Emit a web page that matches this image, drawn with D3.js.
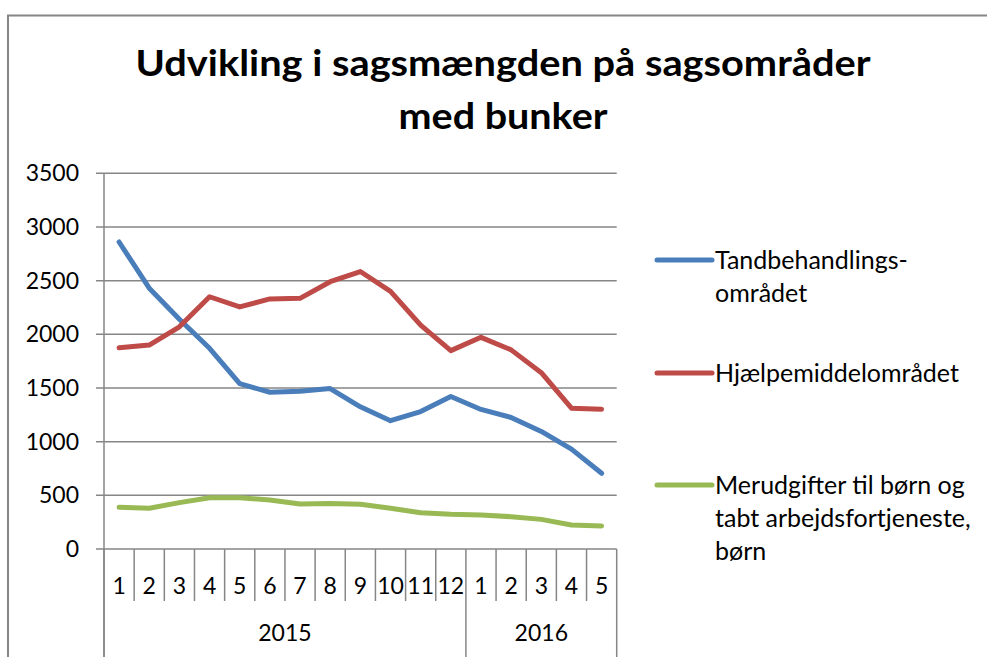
<!DOCTYPE html>
<html>
<head>
<meta charset="utf-8">
<script src="https://cdn.jsdelivr.net/npm/d3@7"></script>
<style>
  html, body { margin: 0; padding: 0; background: #fff; }
  svg { display: block; }
  text { font-family: Lato, "Open Sans", sans-serif; fill: #000; }
</style>
</head>
<body>
<svg id="chart" width="987" height="657"></svg>
<script>
// ---- data ----
const months = ["1","2","3","4","5","6","7","8","9","10","11","12","1","2","3","4","5"];
const yearLabels = ["2015", "2016"];
const yearCounts = [12, 5];
const yTicks = [0, 500, 1000, 1500, 2000, 2500, 3000, 3500];
const titleLines = ["Udvikling i sagsmængden på sagsområder", "med bunker"];

const seriesNames = [
  ["Tandbehandlings-", "området"],
  ["Hjælpemiddelområdet"],
  ["Merudgifter til børn og", "tabt arbejdsfortjeneste,", "børn"]
];
const seriesColors = ["#4A7EBB", "#BE4B48", "#98B954"];
const tandbehandling = [2860, 2430, 2140, 1870, 1540, 1460, 1470, 1495, 1325, 1195, 1280, 1420, 1300, 1225, 1095, 930, 705];
const hjaelpemiddel  = [1875, 1900, 2070, 2350, 2255, 2330, 2335, 2490, 2585, 2400, 2085, 1848, 1972, 1855, 1643, 1312, 1302];
const merudgifter    = [388, 380, 432, 478, 478, 457, 420, 425, 417, 380, 338, 323, 317, 301, 276, 223, 214];
const seriesValues = [tandbehandling, hjaelpemiddel, merudgifter];

// ---- layout ----
(function () {
const svg = d3.select("#chart");
const pLeft = 104, pRight = 616.7, pTop = 173.3, pBottom = 549;
const grid = "#868686";

const x = d3.scaleBand().domain(d3.range(months.length)).range([pLeft, pRight]).padding(0);
const y = d3.scaleLinear().domain([0, 3500]).range([pBottom, pTop]);

// outer border
svg.append("path")
  .attr("d", "M8,657 L8,15.5 L987,15.5")
  .attr("fill", "none").attr("stroke", grid).attr("stroke-width", 2);

// title
const titleWidths = [735, 209];
const titleY = [76, 129];
svg.append("g").selectAll("text").data(titleLines).join("text")
  .attr("x", 503).attr("y", (d, i) => titleY[i])
  .attr("text-anchor", "middle")
  .attr("font-weight", "bold")
  .attr("font-size", 37)
  .attr("textLength", (d, i) => titleWidths[i])
  .attr("lengthAdjust", "spacingAndGlyphs")
  .text(d => d);

// gridlines + y ticks
svg.append("g").selectAll("line").data(yTicks).join("line")
  .attr("x1", pLeft - 8).attr("x2", pRight)
  .attr("y1", d => y(d)).attr("y2", d => y(d))
  .attr("stroke", grid).attr("stroke-width", 1.5);

svg.append("g").selectAll("text").data(yTicks).join("text")
  .attr("x", 79).attr("y", d => y(d) + 8)
  .attr("text-anchor", "end").attr("font-size", 23)
  .text(d => d);

// y axis line
svg.append("line")
  .attr("x1", pLeft).attr("x2", pLeft).attr("y1", pTop).attr("y2", 657)
  .attr("stroke", grid).attr("stroke-width", 1.5);

// category separators
const bounds = d3.range(months.length + 1);
const yearBounds = [0];
yearCounts.forEach((c, i) => yearBounds.push(yearBounds[i] + c));
const bx = i => i < months.length ? x(i) : x(months.length - 1) + x.bandwidth();
svg.append("g").selectAll("line").data(bounds).join("line")
  .attr("x1", d => bx(d)).attr("x2", d => bx(d))
  .attr("y1", pBottom).attr("y2", d => yearBounds.includes(d) ? 657 : 601)
  .attr("stroke", grid).attr("stroke-width", 1.5);

// month labels
svg.append("g").selectAll("text").data(months).join("text")
  .attr("x", (d, i) => x(i) + x.bandwidth() / 2)
  .attr("y", 594)
  .attr("text-anchor", "middle").attr("font-size", 23)
  .text(d => d);

// year labels
svg.append("g").selectAll("text").data(yearLabels).join("text")
  .attr("x", (d, i) => (bx(yearBounds[i]) + bx(yearBounds[i + 1])) / 2)
  .attr("y", 641)
  .attr("text-anchor", "middle").attr("font-size", 23)
  .text(d => d);

// lines
const line = d3.line().x((d, i) => x(i) + x.bandwidth() / 2).y(d => y(d));
svg.append("g").selectAll("path").data(seriesValues).join("path")
  .attr("d", d => line(d))
  .attr("fill", "none")
  .attr("stroke", (d, i) => seriesColors[i])
  .attr("stroke-width", 5)
  .attr("stroke-linecap", "round")
  .attr("stroke-linejoin", "round");

// legend
const legendY = [260, 373, 485];
const lg = svg.append("g").selectAll("g").data(seriesNames).join("g")
  .attr("transform", (d, i) => `translate(0,${legendY[i]})`);
lg.append("line")
  .attr("x1", 657).attr("x2", 712).attr("y1", 0).attr("y2", 0)
  .attr("stroke", (d, i) => seriesColors[i])
  .attr("stroke-width", 5).attr("stroke-linecap", "round");
lg.append("text")
  .attr("font-size", 25)
  .selectAll("tspan").data(d => d).join("tspan")
  .attr("x", 715).attr("y", (d, i) => 8.5 + i * 33)
  .text(d => d);
})();
</script>
</body>
</html>
